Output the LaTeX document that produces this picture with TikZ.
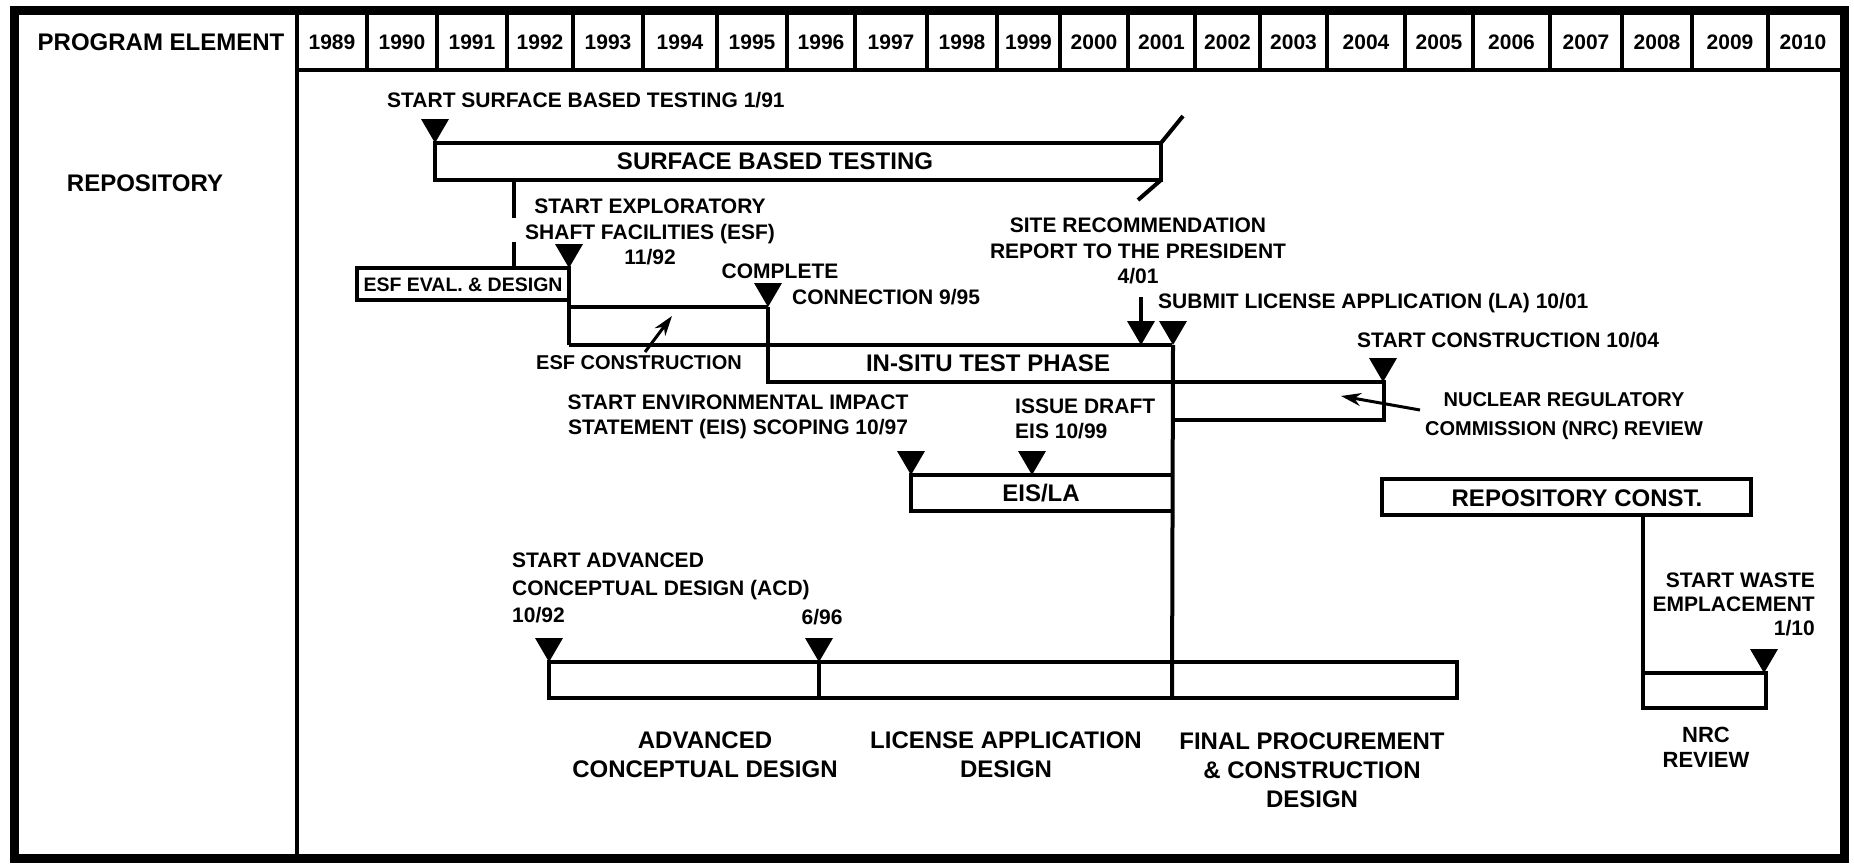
\documentclass[tikz,border=0pt]{standalone}
\usepackage{fontspec}
\setmainfont{Liberation Sans}
\usetikzlibrary{arrows.meta}
\begin{document}
\begin{tikzpicture}[x=1pt,y=-1pt,
  frame/.style={line width=9pt},
  rule/.style={line width=4.5pt},
  bar/.style={line width=4pt},
  small/.style={font=\fontsize{21}{25.5}\selectfont\bfseries, inner sep=0pt, align=center},
  big/.style={font=\fontsize{24}{29}\selectfont\bfseries, inner sep=0pt, align=center},
  slim/.style={font=\fontsize{20}{25}\selectfont\bfseries, inner sep=0pt, align=center},
  pointer/.style={line width=3pt, -{Stealth[length=20pt,width=13pt]}},
  pics/mile/.style={code={\fill (-14,-24) -- (14,-24) -- (0,0) -- cycle;}}
]
\useasboundingbox (0,0) rectangle (1854,867);

% ---------- frame and header ----------
\draw[frame] (14,11) rectangle (1844,858);
\draw[rule] (297,11) -- (297,858);
\draw[rule] (297,70) -- (1844,70);
\foreach \x in {367,437,507,573,643,717,787,855,927,997,1060,1128,1195,1260,1327,1405,1473,1550,1622,1692,1768}
  \draw[rule] (\x,11) -- (\x,70);
\node[big] (prog) at (161,42) {PROGRAM ELEMENT};
\foreach \yr/\a/\b in {1989/297/367,1990/367/437,1991/437/507,1992/507/573,1993/573/643,
  1994/643/717,1995/717/787,1996/787/855,1997/855/927,1998/927/997,1999/997/1060,
  2000/1060/1128,2001/1128/1195,2002/1195/1260,2003/1260/1327,2004/1327/1405,
  2005/1405/1473,2006/1473/1550,2007/1550/1622,2008/1622/1692,2009/1692/1768,2010/1768/1838}
  \node[small] (y\yr) at ({(\a+\b)/2},42) {\yr};
\node[big] (repo) at (145,183) {REPOSITORY};

% ---------- milestone points ----------
\coordinate (m9101) at (435,143);
\coordinate (m9211) at (569,268);
\coordinate (m9509) at (768,307);
\coordinate (m0104) at (1141,345);
\coordinate (m0110) at (1173,345);
\coordinate (m0410) at (1383,382);
\coordinate (m9710) at (911,475);
\coordinate (m9910) at (1032,475);
\coordinate (m9210) at (549,662);
\coordinate (m9606) at (819,662);
\coordinate (m1001) at (1764,673);
\foreach \m in {m9101,m9211,m9509,m0104,m0110,m0410,m9710,m9910,m9210,m9606,m1001}
  \pic at (\m) {mile};

% ---------- surface based testing ----------
\node[small, anchor=west] (sbtlbl) at (387,100) {START SURFACE BASED TESTING 1/91};
\draw[bar] (m9101) rectangle (1161,180);
\node[big] (sbt) at (775,161) {SURFACE BASED TESTING};
\draw[bar] (1161,143) -- (1183,116);
\draw[bar] (1161,180) -- (1138,200);
\draw[bar] (514,180) -- (514,218);
\draw[bar] (514,242) -- (514,268);

% ---------- exploratory shaft facilities ----------
\node[small] (esflbl) at (650,232) {START EXPLORATORY\\SHAFT FACILITIES (ESF)\\11/92};
\draw[bar] (357,268) rectangle (569,300);
\node[font=\fontsize{19.5}{24}\selectfont\bfseries, inner sep=0pt] (esfeval) at (463,285) {ESF EVAL. \& DESIGN};
\draw[bar] (m9211) -- (569,345);
\draw[bar] (569,307) -- (m9509);
\draw[bar] (569,345) -- (1172,345);
\node[small] (complete) at (780,271) {COMPLETE};
\node[small, anchor=west] (conn) at (792,297) {CONNECTION 9/95};
\node[slim] (esfcons) at (639,363) {ESF CONSTRUCTION};
\draw[pointer] (645,352) -- (672,316);

% ---------- in-situ testing and NRC review ----------
\draw[bar] (m9509) -- (768,382) -- (1384,382) -- (1384,420) -- (1172,420);
\node[big] (insitu) at (988,363) {IN-SITU TEST PHASE};
\draw[bar] (m0110) -- (1172,698);
\node[small] (sitelbl) at (1138,251) {SITE RECOMMENDATION\\REPORT TO THE PRESIDENT\\4/01};
\draw[bar] (1141,297) -- (1141,322);
\node[small, anchor=west] (submit) at (1158,303) {SUBMIT LICENSE APPLICATION (LA) 10/01};
\node[small, anchor=west] (constr) at (1357,340) {START CONSTRUCTION 10/04};
\node[font=\fontsize{20}{29}\selectfont\bfseries, inner sep=0pt, align=center] (nrc) at (1564,416)
  {NUCLEAR REGULATORY\\COMMISSION (NRC) REVIEW};
\draw[pointer] (1420,410) -- (1341,396);

% ---------- environmental impact statement ----------
\node[small] (eislbl) at (738,417) {START ENVIRONMENTAL IMPACT\\STATEMENT (EIS) SCOPING 10/97};
\node[small, align=left, anchor=west] (draft) at (1015,419) {ISSUE DRAFT\\EIS 10/99};
\draw[bar] (1172,475) -- (m9710) -- (911,511) -- (1172,511);
\node[big] (eisla) at (1041,493) {EIS/LA};

% ---------- design phases ----------
\node[font=\fontsize{21}{27.5}\selectfont\bfseries, inner sep=0pt, align=left, anchor=west] (acdlbl) at (512,588)
  {START ADVANCED\\CONCEPTUAL DESIGN (ACD)\\10/92};
\node[small] (d96) at (822,617) {6/96};
\draw[bar] (m9210) rectangle (1457,698);
\draw[bar] (m9606) -- (819,698);
\node[big] (acd) at (705,755) {ADVANCED\\CONCEPTUAL DESIGN};
\node[big] (lad) at (1006,755) {LICENSE APPLICATION\\DESIGN};
\node[big] (fpcd) at (1312,770) {FINAL PROCUREMENT\\\& CONSTRUCTION\\DESIGN};

% ---------- repository construction ----------
\draw[bar] (1382,479) rectangle (1751,515);
\node[big] (rcons) at (1577,498) {REPOSITORY CONST.};
\draw[bar] (1643,515) -- (1643,673);
\draw[bar] (1643,673) rectangle (1766,708);
\node[font=\fontsize{21}{24}\selectfont\bfseries, inner sep=0pt, align=right, anchor=east] (waste) at (1815,604)
  {START WASTE\\EMPLACEMENT\\1/10};
\node[font=\fontsize{22}{25}\selectfont\bfseries, inner sep=0pt, align=center] (nrcrev) at (1706,747) {NRC\\REVIEW};
\end{tikzpicture}
\end{document}
